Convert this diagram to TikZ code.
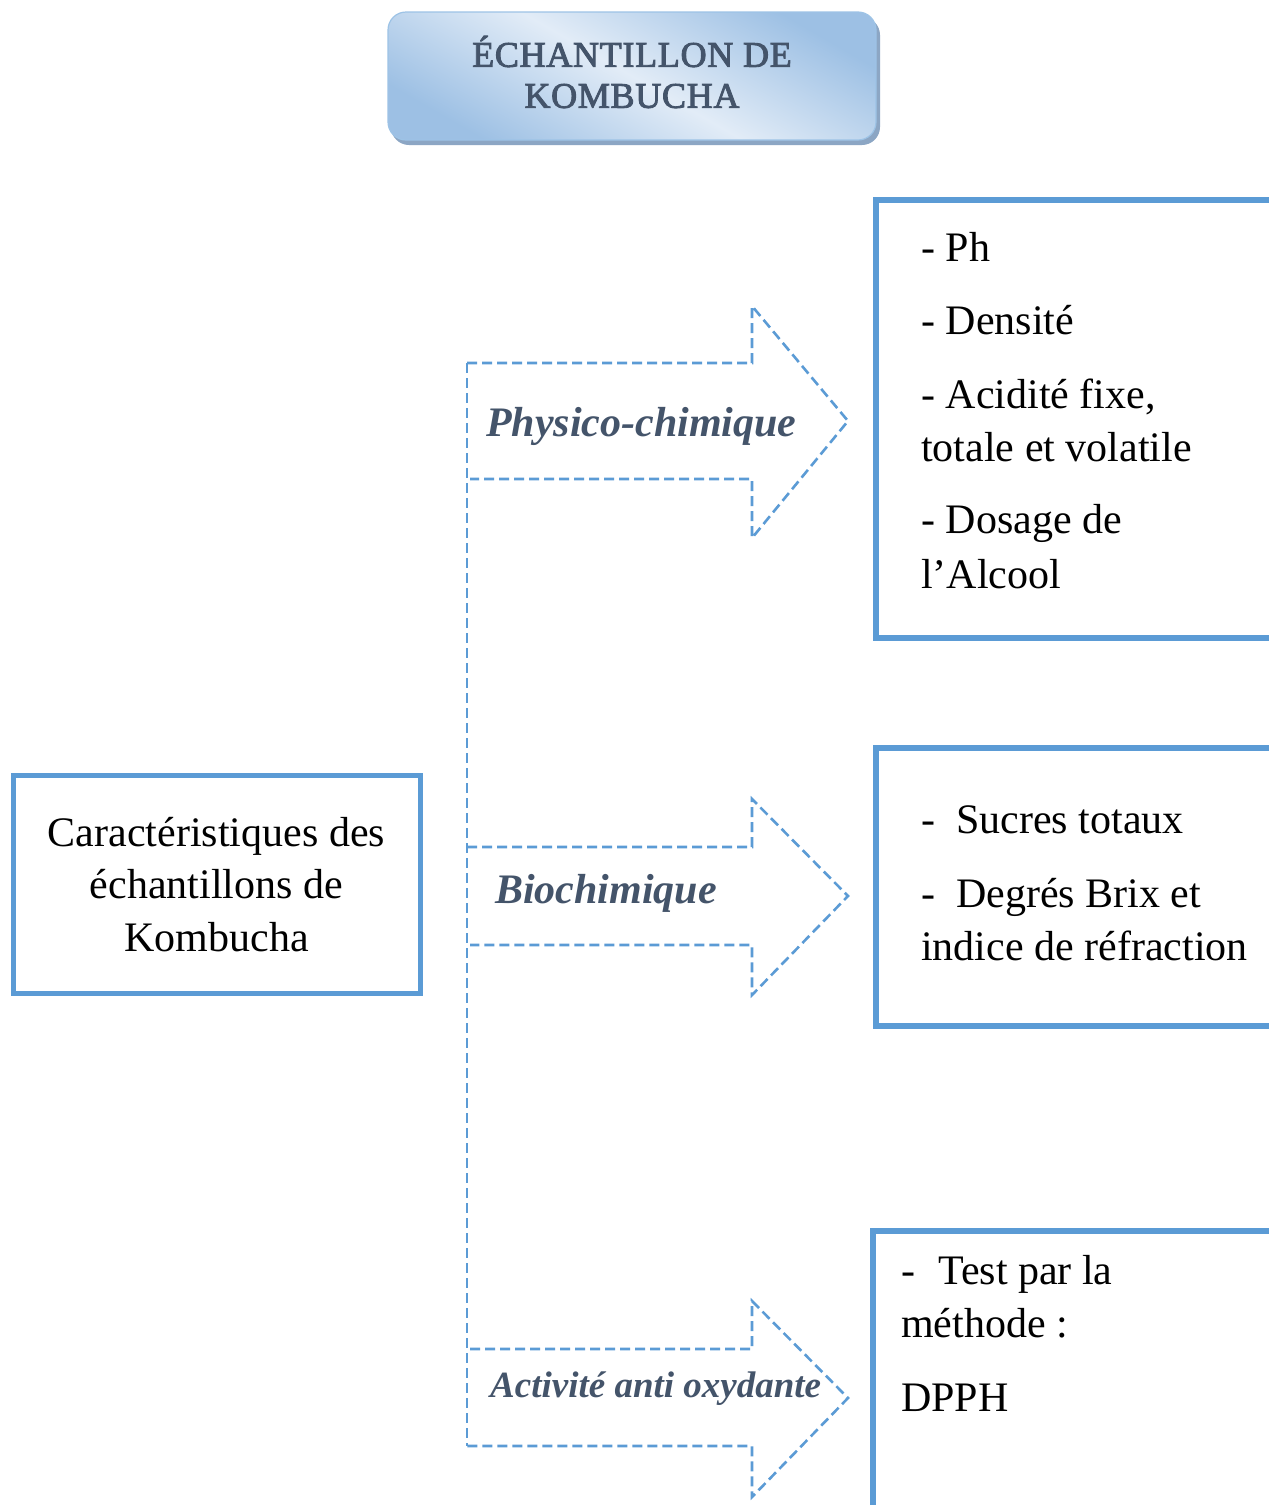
\documentclass[tikz,border=0pt]{standalone}
\usepackage{fontspec}
\setmainfont{Liberation Serif}
\definecolor{boxblue}{HTML}{5B9BD5}
\definecolor{slate}{HTML}{44546A}
\definecolor{gradlight}{HTML}{E2ECF7}
\definecolor{graddark}{HTML}{9DC0E4}
\definecolor{shadowc}{HTML}{8CA6C4}
\definecolor{titleedge}{HTML}{9DC3E6}
\tikzset{
  solidbox/.style={draw=boxblue, line width=6pt},
  dasharrow/.style={draw=boxblue, line width=2.6pt, dash pattern=on 10pt off 5pt},
  bodytext/.style={font=\fontsize{42}{52}\selectfont, inner sep=0pt, anchor=base west, text=black},
  armlabel/.style={font=\fontsize{42}{50}\selectfont\bfseries\itshape, text=slate, inner sep=0pt, anchor=base west},
}
\begin{document}
\begin{tikzpicture}[x=1pt,y=-1pt]
\useasboundingbox (0,0) rectangle (1269,1505);
\fill[white] (0,0) rectangle (1269,1505);

% title box
\fill[shadowc, rounded corners=18pt] (391,17) rectangle (880,145);
\node[draw=titleedge, line width=1.2pt, rounded corners=18pt,
      minimum width=488pt, minimum height=128pt, inner sep=0pt,
      top color=graddark, bottom color=graddark, middle color=gradlight, shading angle=-30]
  (title) at (632,76) {};
\node[align=center, text=slate, inner sep=0pt,
      font=\fontsize{36}{41}\selectfont\addfontfeatures{LetterSpace=2,FakeBold=2.5}]
  (titletext) at (632,72) {ÉCHANTILLON DE\\KOMBUCHA};

% left box
\node[solidbox, line width=5pt, minimum width=407pt, minimum height=218pt, inner sep=0pt,
      align=center, font=\fontsize{42}{52.5}\selectfont]
  (carac) at (216.5,884.5) {Caractéristiques des\\échantillons de\\Kombucha};

% right boxes (open to the right / bottom edge)
\draw[solidbox] (1275,200) -- (876,200) -- (876,638) -- (1275,638);
\draw[solidbox] (1275,748) -- (876,748) -- (876,1026) -- (1275,1026);
\draw[solidbox] (1275,1231) -- (873,1231) -- (873,1512);

\node[bodytext] (p1) at (921,261) {-\hspace{0.25em}Ph};
\node[bodytext] (p2) at (921,334) {-\hspace{0.25em}Densité};
\node[bodytext] (p3) at (921,408) {-\hspace{0.25em}Acidité fixe,};
\node[bodytext] (p3b) at (921,461) {totale et volatile};
\node[bodytext] (p4) at (921,533) {-\hspace{0.25em}Dosage de};
\node[bodytext] (p4b) at (921,588) {l’Alcool};

\node[bodytext] (b1) at (921,833) {-\hspace{0.5em}Sucres totaux};
\node[bodytext] (b2) at (921,907) {-\hspace{0.5em}Degrés Brix et};
\node[bodytext] (b2b) at (921,960) {indice de réfraction};

\node[bodytext] (a1) at (901,1284) {-\hspace{0.55em}Test par la};
\node[bodytext] (a1b) at (901,1337) {méthode :};
\node[bodytext] (a2) at (901,1411) {DPPH};

% dashed arrows
\draw[dasharrow] (467,363) -- (467,1446);
\draw[dasharrow] (467,363) -- (752,363) -- (752,306) -- (848,421) -- (752,538) -- (752,479) -- (470,479);
\draw[dasharrow] (467,847) -- (752,847) -- (752,799) -- (848,896) -- (752,995) -- (752,945) -- (470,945);
\draw[dasharrow] (470,1349) -- (752,1349) -- (752,1301) -- (848,1398) -- (752,1497) -- (752,1446) -- (467,1446);

\node[armlabel] (l1) at (486,436) {Physico-chimique};
\node[armlabel] (l2) at (495,903) {Biochimique};
\node[armlabel, font=\fontsize{37}{44}\selectfont\bfseries\itshape] (l3) at (490,1397) {Activité anti oxydante};
\end{tikzpicture}
\end{document}
